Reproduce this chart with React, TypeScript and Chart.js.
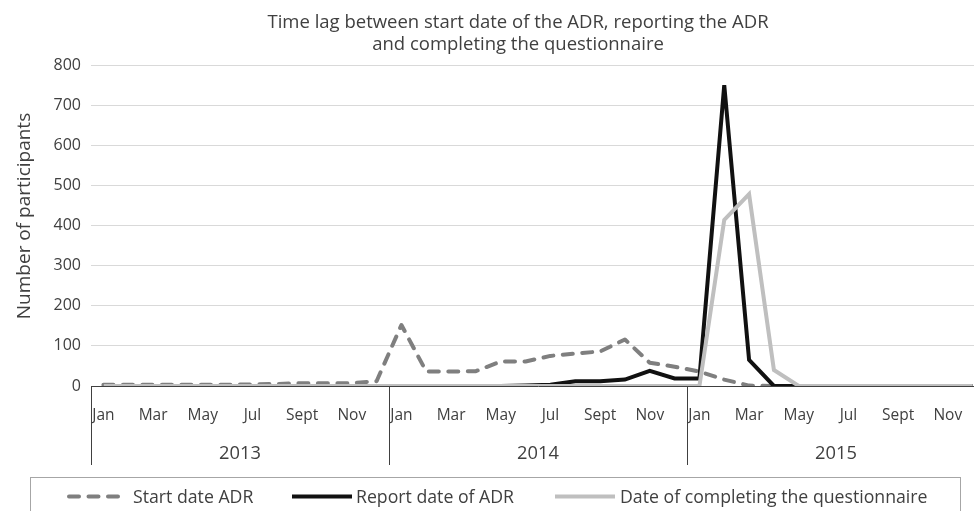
import React, { useEffect, useRef } from 'react';
import { Chart, registerables } from 'chart.js';

Chart.register(...registerables);

const MONTHS = ['Jan', 'Feb', 'Mar', 'Apr', 'May', 'Jun', 'Jul', 'Aug', 'Sept', 'Oct', 'Nov', 'Dec'];
const YEARS = ['2013', '2014', '2015'];
const CATEGORIES = YEARS.flatMap((y) => MONTHS.map((m) => `${m} ${y}`));

const TITLE_LINES = ['Time lag between start date of the ADR, reporting the ADR', 'and completing the questionnaire'];
const Y_TITLE = 'Number of participants';
const SERIES_NAMES = ['Start date ADR', 'Report date of ADR', 'Date of completing the questionnaire'];

const START_DATE_ADR = [
  3, 3, 3, 3, 3, 3, 4, 5, 7, 7, 7, 12,
  152, 36, 36, 37, 61, 61, 75, 81, 86, 116, 58, 48,
  36, 16, 1, 0, 0, 0, 0, 0, 0, 0, 0, 0,
];
const REPORT_DATE_ADR = [
  0, 0, 0, 0, 0, 0, 0, 0, 0, 0, 0, 0,
  0, 0, 0, 0, 0, 1, 3, 12, 12, 16, 38, 19,
  19, 750, 65, 0, 0, 0, 0, 0, 0, 0, 0, 0,
];
const QUESTIONNAIRE_DATE = [
  0, 0, 0, 0, 0, 0, 0, 0, 0, 0, 0, 0,
  0, 0, 0, 0, 0, 0, 0, 0, 0, 0, 0, 0,
  0, 414, 478, 40, 0, 0, 0, 0, 0, 0, 0, 0,
];

const Y_MIN = 0;
const Y_MAX = 800;
const Y_STEP = 100;

const COLORS = ['#7f7f7f', '#111111', '#bfbfbf'];
const TEXT = '#404040';
const FONT = "'Open Sans', 'DejaVu Sans', sans-serif";
const DASH = [10, 9.5];

const decorPlugin = {
  id: 'decor',
  afterDraw(chart: any) {
    const { ctx, chartArea, scales } = chart;
    const xs = scales.x;
    const bin = xs.getPixelForValue(1) - xs.getPixelForValue(0);
    ctx.save();

    // Title
    ctx.fillStyle = TEXT;
    ctx.textAlign = 'center';
    ctx.textBaseline = 'alphabetic';
    ctx.font = `18.5px ${FONT}`;
    ctx.fillText(TITLE_LINES[0], 518, 28);
    ctx.fillText(TITLE_LINES[1], 518, 50);

    // Y axis title
    ctx.save();
    ctx.translate(30, 216);
    ctx.rotate(-Math.PI / 2);
    ctx.font = `19px ${FONT}`;
    ctx.textBaseline = 'alphabetic';
    ctx.fillText(Y_TITLE, 0, 0);
    ctx.restore();

    // Year dividers and labels
    ctx.strokeStyle = TEXT;
    ctx.lineWidth = 1;
    const bounds: number[] = [];
    for (let i = 0; i <= YEARS.length; i++) {
      const px = xs.getPixelForValue(i * 12) - bin / 2;
      bounds.push(px);
      const rx = Math.round(px) + 0.5;
      ctx.beginPath();
      ctx.moveTo(rx, chartArea.bottom);
      ctx.lineTo(rx, chartArea.bottom + 79);
      ctx.stroke();
    }
    ctx.font = `18.3px ${FONT}`;
    ctx.textAlign = 'center';
    YEARS.forEach((y, i) => {
      ctx.fillText(y, (bounds[i] + bounds[i + 1]) / 2, 459);
    });

    // Legend
    ctx.strokeStyle = '#a6a6a6';
    ctx.lineWidth = 1;
    ctx.strokeRect(30.5, 477.5, 930, 60);
    const items = [
      { x0: 69, x1: 118, tx: 133, dash: DASH },
      { x0: 292, x1: 352, tx: 356, dash: [] },
      { x0: 555, x1: 615, tx: 620, dash: [] },
    ];
    ctx.font = `17.7px ${FONT}`;
    ctx.textAlign = 'left';
    items.forEach((it, i) => {
      ctx.save();
      ctx.strokeStyle = COLORS[i];
      ctx.lineWidth = 4;
      ctx.lineCap = i === 0 ? 'round' : 'butt';
      ctx.setLineDash(it.dash);
      ctx.beginPath();
      ctx.moveTo(it.x0, 496.5);
      ctx.lineTo(it.x1, 496.5);
      ctx.stroke();
      ctx.restore();
      ctx.fillStyle = TEXT;
      ctx.fillText(SERIES_NAMES[i], it.tx, 503);
    });

    ctx.restore();
  },
};

export default function App() {
  const ref = useRef<HTMLCanvasElement | null>(null);

  useEffect(() => {
    if (!ref.current) return;
    const chart = new Chart(ref.current, {
      type: 'line',
      data: {
        labels: CATEGORIES,
        datasets: [
          {
            label: SERIES_NAMES[0],
            data: START_DATE_ADR,
            borderColor: COLORS[0],
            backgroundColor: COLORS[0],
            borderWidth: 4,
            borderDash: DASH,
            borderCapStyle: 'round',
            borderJoinStyle: 'round',
            pointRadius: 0,
            tension: 0,
            order: 3,
          },
          {
            label: SERIES_NAMES[1],
            data: REPORT_DATE_ADR,
            borderColor: COLORS[1],
            backgroundColor: COLORS[1],
            borderWidth: 4,
            borderJoinStyle: 'miter',
            pointRadius: 0,
            tension: 0,
            order: 2,
          },
          {
            label: SERIES_NAMES[2],
            data: QUESTIONNAIRE_DATE,
            borderColor: COLORS[2],
            backgroundColor: COLORS[2],
            borderWidth: 4,
            borderJoinStyle: 'miter',
            pointRadius: 0,
            tension: 0,
            order: 1,
          },
        ],
      },
      options: {
        animation: false,
        responsive: false,
        devicePixelRatio: 1,
        layout: { padding: { top: 65, right: 15, bottom: 0, left: 0 } },
        plugins: {
          legend: { display: false },
          title: { display: false },
          tooltip: { enabled: false },
        },
        scales: {
          x: {
            type: 'category',
            offset: true,
            grid: { display: false, drawTicks: false },
            border: { display: true, color: TEXT, width: 1 },
            ticks: {
              autoSkip: false,
              maxRotation: 0,
              minRotation: 0,
              padding: 20,
              color: TEXT,
              font: { family: FONT, size: 15.5 },
              callback: (_v: any, i: number) => (i % 2 === 0 ? MONTHS[i % 12] : ''),
            },
            afterFit: (s: any) => {
              s.height = 125;
            },
          },
          y: {
            min: Y_MIN,
            max: Y_MAX,
            ticks: {
              stepSize: Y_STEP,
              padding: 10,
              color: TEXT,
              font: { family: FONT, size: 16 },
            },
            grid: { color: '#d9d9d9', lineWidth: 1, drawTicks: false },
            border: { display: false },
            afterFit: (s: any) => {
              s.width = 91;
            },
          },
        },
      },
      plugins: [decorPlugin],
    });
    return () => chart.destroy();
  }, []);

  return (
    <div style={{ position: 'fixed', left: 0, top: 0, width: 974, height: 511, overflow: 'hidden', background: '#fff' }}>
      <canvas ref={ref} width={1000} height={511} style={{ width: 1000, height: 511, display: 'block' }} />
    </div>
  );
}
